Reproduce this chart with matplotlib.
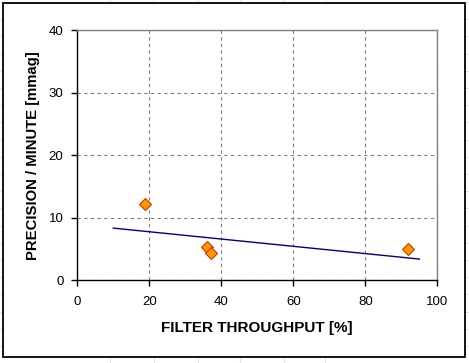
import numpy as np
import matplotlib
matplotlib.use("Agg")
import matplotlib.pyplot as plt
from matplotlib.lines import Line2D
from matplotlib.patches import Rectangle

# measured points
throughput = [18.8, 36.1, 37.0, 91.9]
precision = [12.2, 5.3, 4.4, 5.0]
# trend line ends
trend_x = [10, 95]
trend_y = [8.35, 3.4]

x_ticks = [0, 20, 40, 60, 80, 100]
y_ticks = [0, 10, 20, 30, 40]

W, H = 469, 363
plt.rcParams['font.family'] = ['Liberation Sans', 'DejaVu Sans']
tick_family = ['Liberation Sans Narrow', 'Liberation Sans', 'DejaVu Sans']

fig = plt.figure(figsize=(W / 100, H / 100), dpi=100)
fig.patch.set_facecolor("white")

# spreadsheet cells behind the chart
for gx in [110, 154, 198, 240, 284, 325]:
    fig.add_artist(Line2D([gx / W, gx / W], [0, 1], color="#e4e4e4", lw=0.8, zorder=-3))
for gy in np.arange(2, H, 17.2):
    fig.add_artist(Line2D([0, 1], [1 - gy / H, 1 - gy / H], color="#e4e4e4", lw=0.8, zorder=-3))
fig.add_artist(Rectangle((3 / W, 1 - 357 / H), 462 / W, 354 / H,
                         facecolor="white", edgecolor="black", lw=1.3, zorder=-2))

ax = fig.add_axes([77.3 / W, 1 - 280.3 / H, 360 / W, 250 / H])
ax.patch.set_alpha(0)
ax.plot(trend_x, trend_y, color="#000080", lw=1.0, zorder=3)
ax.plot(throughput, precision, ls="none", marker="D", ms=6,
        mfc="#ff9900", mec="#cc3300", mew=0.8, zorder=4)

ax.set_xlim(0, 100)
ax.set_ylim(0, 40)
ax.set_xticks(x_ticks)
ax.set_yticks(y_ticks)
ax.grid(True, color="#808080", ls=(0, (3, 3)), lw=0.8)
ax.tick_params(direction="out", length=4, width=1, labelsize=9.5, colors="black")
ax.tick_params(axis="x", pad=7.5)
ax.tick_params(axis="y", pad=6)
for lab in ax.get_xticklabels() + ax.get_yticklabels():
    lab.set_family(tick_family)
for s in ["top", "right"]:
    ax.spines[s].set_color("#808080")
    ax.spines[s].set_linewidth(1.0)
for s in ["left", "bottom"]:
    ax.spines[s].set_color("black")
    ax.spines[s].set_linewidth(1.0)

ax.set_xlabel("FILTER THROUGHPUT [%]", fontsize=11, fontweight="bold", labelpad=9)
ax.set_ylabel("PRECISION / MINUTE [mmag]", fontsize=10.7, fontweight="bold", labelpad=6)

fig.savefig("out.png", dpi=100)
